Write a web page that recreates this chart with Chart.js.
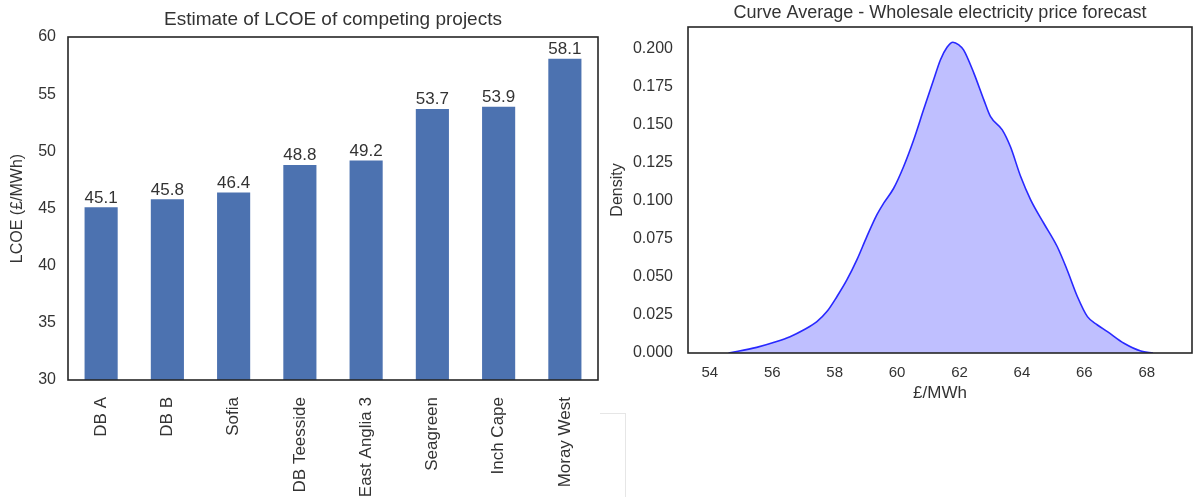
<!DOCTYPE html>
<html>
<head>
<meta charset="utf-8">
<script src="https://cdn.jsdelivr.net/npm/chart.js@4"></script>
<style>
  html, body { margin: 0; padding: 0; background: #fff; }
  body { width: 1198px; height: 497px; overflow: hidden; position: relative; }
  #lcoeChart { position: absolute; left: 0; top: 0; }
  #priceChart { position: absolute; left: 605px; top: 0; }
  #seam { position: absolute; left: 600px; top: 413px; width: 25px; height: 90px;
          border-top: 1px solid #e6e6e6; border-right: 1px solid #e6e6e6; }
</style>
</head>
<body>
<canvas id="lcoeChart" width="612" height="530"></canvas>
<canvas id="priceChart" width="593" height="497"></canvas>
<div id="seam"></div>
<script>
const projects = ["DB A", "DB B", "Sofia", "DB Teesside", "East Anglia 3", "Seagreen", "Inch Cape", "Moray West"];
const lcoe = [45.1, 45.8, 46.4, 48.8, 49.2, 53.7, 53.9, 58.1];
const lcoeTicks = [30, 35, 40, 45, 50, 55, 60];

const price = [54.6, 55.5, 56.14, 56.57, 57.0, 57.43, 57.75, 58.07, 58.39, 58.71, 59.03, 59.35, 59.57, 59.89,
  60.21, 60.53, 60.85, 61.17, 61.39, 61.6, 61.79, 61.98, 62.13, 62.46, 62.78, 62.99, 63.37, 63.63, 63.96,
  64.28, 64.7, 65.13, 65.45, 65.78, 66.1, 66.42, 66.74, 67.27, 67.81, 68.2];
const density = [0, 0.0037, 0.0075, 0.0107, 0.0151, 0.0206, 0.0272, 0.037, 0.048, 0.0612, 0.0765, 0.0908, 0.0985, 0.1083,
  0.1226, 0.14, 0.16, 0.1796, 0.1928, 0.201, 0.2043, 0.2025, 0.1993, 0.184, 0.1664, 0.1555, 0.1467, 0.1357, 0.116,
  0.1007, 0.0853, 0.07, 0.0546, 0.037, 0.0239, 0.0184, 0.014, 0.0064, 0.0013, 0];
const priceTicks = [54, 56, 58, 60, 62, 64, 66, 68];
const densityTicks = [0, 0.025, 0.05, 0.075, 0.1, 0.125, 0.15, 0.175, 0.2];

const FONT = "'Liberation Sans', Arial, sans-serif";
const TEXT = "#333";
Chart.defaults.font.family = FONT;
Chart.defaults.color = TEXT;

// box round the plot area + title centred over it
const frame = {
  id: "frame",
  afterDraw(chart, args, opts) {
    const a = chart.chartArea, c = chart.ctx;
    c.save();
    c.strokeStyle = "#262626";
    c.lineWidth = 1.6;
    c.strokeRect(a.left, a.top, a.right - a.left, a.bottom - a.top);
    c.fillStyle = TEXT;
    c.font = opts.size + "px " + FONT;
    c.textAlign = "center";
    c.textBaseline = "middle";
    c.fillText(opts.text, (a.left + a.right) / 2, opts.y);
    c.restore();
  }
};

// value on top of each bar
const barLabels = {
  id: "barLabels",
  afterDatasetsDraw(chart) {
    const c = chart.ctx;
    c.save();
    c.fillStyle = TEXT;
    c.font = "17px " + FONT;
    c.textAlign = "center";
    c.textBaseline = "bottom";
    chart.getDatasetMeta(0).data.forEach((bar, i) => {
      c.fillText(lcoe[i].toFixed(1), bar.x, bar.y - 1);
    });
    c.restore();
  }
};

new Chart(document.getElementById("lcoeChart"), {
  type: "bar",
  data: {
    labels: projects,
    datasets: [{
      data: lcoe,
      backgroundColor: "#4c72b0",
      categoryPercentage: 1,
      barPercentage: 0.5
    }]
  },
  options: {
    responsive: false,
    animation: false,
    layout: { padding: { top: 37, right: 14, bottom: 0, left: 0 } },
    plugins: {
      legend: { display: false },
      tooltip: { enabled: false },
      frame: { text: "Estimate of LCOE of competing projects", size: 19, y: 20 }
    },
    scales: {
      x: {
        grid: { display: false, drawTicks: false },
        border: { display: false },
        ticks: { font: { size: 17 }, minRotation: 90, maxRotation: 90, autoSkip: false, padding: 17 },
        afterFit(s) { s.height = 150; }
      },
      y: {
        min: 30, max: 60,
        grid: { display: false, drawTicks: false },
        border: { display: false },
        afterBuildTicks(s) { s.ticks = lcoeTicks.map(v => ({ value: v })); },
        ticks: { font: { size: 16 }, padding: 12 },
        title: { display: true, text: "LCOE (£/MWh)", font: { size: 16 }, padding: { top: 8, bottom: 0 } },
        afterFit(s) { s.width = 68; }
      }
    }
  },
  plugins: [frame, barLabels]
});

new Chart(document.getElementById("priceChart"), {
  type: "line",
  data: {
    datasets: [{
      data: price.map((p, i) => ({ x: p, y: density[i] })),
      borderColor: "rgba(20,20,255,0.9)",
      borderWidth: 1.6,
      backgroundColor: "rgba(0,0,255,0.25)",
      fill: "origin",
      pointRadius: 0,
      cubicInterpolationMode: "monotone"
    }]
  },
  options: {
    responsive: false,
    animation: false,
    layout: { padding: { top: 27, right: 6, bottom: 84, left: 0 } },
    plugins: {
      legend: { display: false },
      tooltip: { enabled: false },
      frame: { text: "Curve Average - Wholesale electricity price forecast", size: 18, y: 13 }
    },
    scales: {
      x: {
        type: "linear",
        min: 53.3, max: 69.45,
        grid: { display: false, drawTicks: false },
        border: { display: false },
        afterBuildTicks(s) { s.ticks = priceTicks.map(v => ({ value: v })); },
        ticks: { font: { size: 15 }, padding: 11 },
        title: { display: true, text: "£/MWh", font: { size: 17 }, padding: { top: 0, bottom: 9 } },
        afterFit(s) { s.height = 60; }
      },
      y: {
        min: 0, max: 0.2143,
        grid: { display: false, drawTicks: false },
        border: { display: false },
        afterBuildTicks(s) { s.ticks = densityTicks.map(v => ({ value: v })); },
        ticks: { font: { size: 16 }, padding: 15, callback: v => v.toFixed(3) },
        title: { display: true, text: "Density", font: { size: 16 }, padding: { top: 3, bottom: 0 } },
        afterFit(s) { s.width = 83; }
      }
    }
  },
  plugins: [frame]
});
</script>
</body>
</html>
